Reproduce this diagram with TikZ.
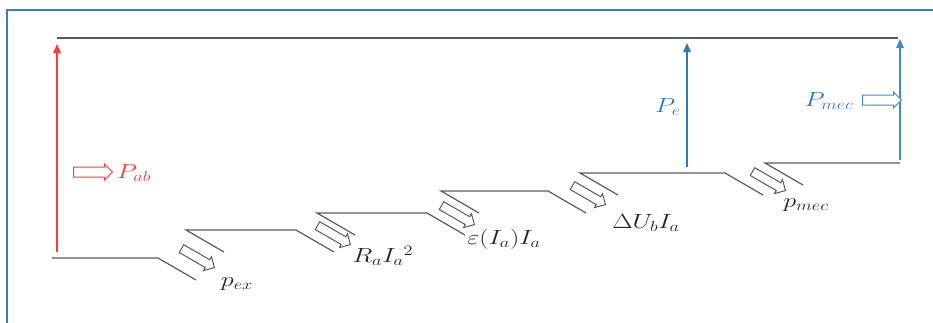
\RequirePackage{fix-cm}
\documentclass[tikz,border=0pt]{standalone}
\usetikzlibrary{arrows.meta,shapes.arrows,calc}
\definecolor{framecol}{HTML}{3C7BC6}
\definecolor{stepgray}{HTML}{5A5A5A}
\definecolor{redc}{HTML}{FF3A3A}
\definecolor{bluec}{HTML}{2F78BD}
\definecolor{bluelt}{HTML}{4187CC}
\definecolor{txt}{HTML}{222230}
\tikzset{
  stepline/.style={stepgray, line width=1.2pt},
  hollow/.style={single arrow, draw=#1, fill=white, line width=1pt, inner xsep=0pt,
    inner ysep=4pt, minimum height=38pt, single arrow head extend=3.5pt},
  lbl/.style={font=\fontsize{20.5}{24}\selectfont, text=txt, inner sep=0pt, xscale=1.28, transform shape},
  powarrow/.style={line width=1.6pt, -{Triangle[length=9pt,width=7.5pt]}}
}
\begin{document}
\begin{tikzpicture}[x=1pt,y=1pt]
\useasboundingbox (0,0) rectangle (933,-322);
% frame
\draw[framecol, line width=2.6pt] (7,-330) -- (7,-10) -- (940,-10);
% level coordinates
\coordinate (s0) at (52,-258);  \coordinate (e0) at (158,-258);
\coordinate (s1) at (186,-230); \coordinate (e1) at (296,-230);
\coordinate (s2) at (317,-213); \coordinate (e2) at (427,-213);
\coordinate (s3) at (441,-191); \coordinate (e3) at (548,-191);
\coordinate (s4) at (580,-173); \coordinate (e4) at (725,-173);
\coordinate (s5) at (765,-163); \coordinate (e5) at (900,-163);
\coordinate (tl) at (57,-38);   \coordinate (tr) at (898,-38);
% steps
\draw[stepline] (s0) -- (e0) -- ($(e0)+(38,-22)$);
\foreach \i in {1,2,3,4}{
  \draw[stepline] ($(s\i)+(38,-22)$) -- (s\i) -- (e\i) -- ($(e\i)+(38,-22)$);
}
\draw[stepline] ($(s5)+(38,-22)$) -- (s5) -- (e5);
\draw[stepline] (tl) -- (tr);
% loss arrows
\node[hollow=stepgray, rotate=-30] (h1) at (196,-257) {};
\node[hollow=stepgray, rotate=-30] (h2) at (332,-234) {};
\node[hollow=stepgray, rotate=-30] (h3) at (456,-214) {};
\node[hollow=stepgray, rotate=-30] (h4) at (587,-194) {};
\node[hollow=stepgray, rotate=-30] (h5) at (767,-180) {};
% loss labels
\node[lbl] (lex) at (237,-284) {$p_{ex}$};
\node[lbl] (lra) at (383,-256) {$R_a I_a{}^{2}$};
\node[lbl] (lep) at (504,-239) {$\varepsilon(I_a)I_a$};
\node[lbl] (ldu) at (646,-223) {$\Delta U_b I_a$};
\node[lbl] (lmec) at (806,-205) {$p_{mec}$};
% power arrows
\coordinate (rb) at (57,-252);  \coordinate (rt) at (57,-44);
\coordinate (pb) at (687,-167); \coordinate (pt) at (687,-43);
\coordinate (mb) at (900,-160); \coordinate (mt) at (900,-39);
\draw[powarrow, redc] (rb) -- (rt);
\draw[powarrow, bluec] (pb) -- (pt);
\draw[powarrow, bluelt] (mb) -- (mt);
% power labels
\node[hollow=redc, minimum height=39pt, inner ysep=4.5pt, single arrow head extend=3pt] (hab) at (90.5,-172) {};
\node[lbl, text=redc] (lab) at (134,-173) {$P_{ab}$};
\node[lbl, text=bluec] (lpe) at (668,-107) {$P_e$};
\node[lbl, text=bluec] (lpm) at (829,-101) {$P_{mec}$};
\node[hollow=bluelt, minimum height=39pt, inner ysep=4.5pt, single arrow head extend=3pt] (hpm) at (879.5,-100) {};
\end{tikzpicture}
\end{document}
